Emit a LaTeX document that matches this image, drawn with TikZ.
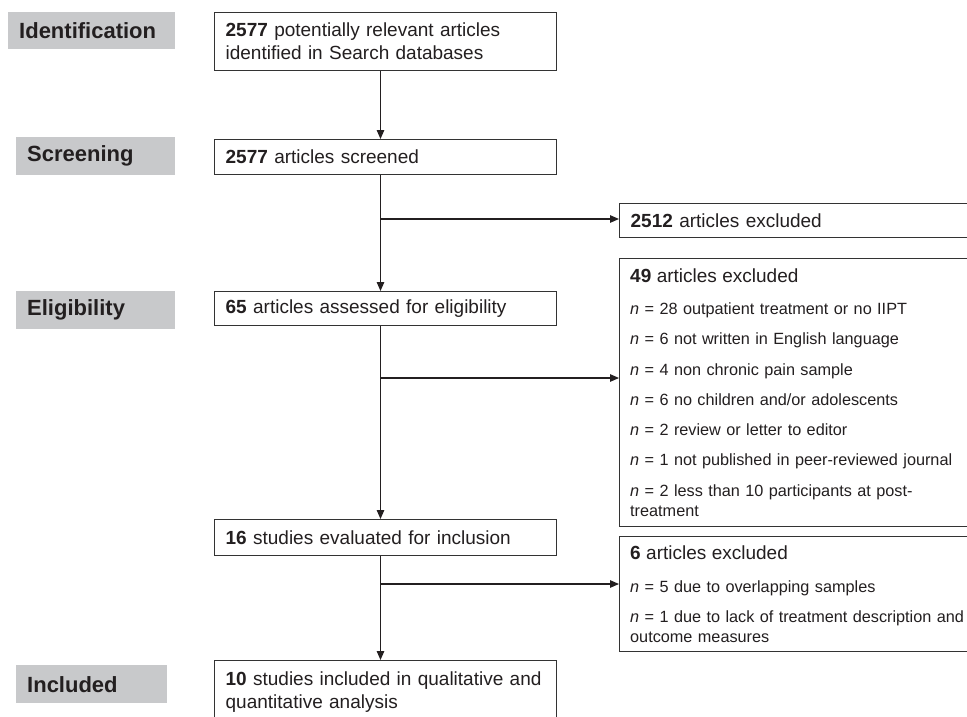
\documentclass[tikz,border=0pt]{standalone}
\usepackage{fontspec}
\setmainfont{Liberation Sans}
\usetikzlibrary{arrows.meta,calc}
\definecolor{ink}{HTML}{231F20}
\definecolor{stagegray}{HTML}{C8C9CB}
\definecolor{boxline}{HTML}{333333}
\newcommand\extitlefont{\fontsize{19}{20}\selectfont}
\begin{document}
\begin{tikzpicture}[x=1pt,y=-1pt,
  stage/.style={fill=stagegray, draw=none, anchor=north west, inner xsep=11pt, inner ysep=0pt, align=left, font=\fontsize{22}{25}\selectfont\bfseries, text=ink},
  mainbox/.style={draw=boxline, line width=1.3pt, anchor=north west, minimum width=342pt, text width=320pt, inner xsep=11pt, inner ysep=0pt, align=left, font=\fontsize{19}{23}\selectfont, text=ink},
  exbox/.style={draw=boxline, line width=1.3pt, anchor=north west, minimum width=360pt, inner sep=0pt},
  extext/.style={anchor=north west, inner sep=0pt, text width=420pt, align=left, font=\fontsize{16.25}{20}\selectfont, text=ink},
  flow/.style={draw=ink, line width=1.2pt, -{Triangle[length=9pt,width=7.5pt]}},
]
\useasboundingbox[fill=white] (0,0) rectangle (967,716);

% stage labels
\node[stage, minimum width=167pt, text width=145pt, minimum height=37pt] (sid) at (8,12) {Identification};
\node[stage, minimum width=159pt, text width=137pt, minimum height=38pt] (ssc) at (16,137) {Screening};
\node[stage, minimum width=159pt, text width=137pt, minimum height=38pt] (sel) at (16,291) {Eligibility};
\node[stage, minimum width=151pt, text width=129pt, minimum height=38pt] (sin) at (16,665) {Included};

% main flow boxes
\node[mainbox, minimum height=58pt] (b1) at (214,12) {\textbf{2577} potentially relevant articles\\identified in Search databases};
\node[mainbox, minimum height=35pt] (b2) at (214,139) {\textbf{2577} articles screened};
\node[mainbox, minimum height=34pt] (b3) at (214,291) {\textbf{65} articles assessed for eligibility};
\node[mainbox, minimum height=36pt] (b4) at (214,519) {\textbf{16} studies evaluated for inclusion};
\node[mainbox, minimum height=63pt] (b5) at (214,660) {\textbf{10} studies included in qualitative and\\quantitative analysis};

% exclusion boxes
\node[exbox, minimum height=34pt, text width=338pt, inner xsep=11pt, align=left, font=\fontsize{19}{23}\selectfont, text=ink] (e1) at (619,203) {\textbf{2512} articles excluded};
\node[exbox, minimum height=268pt] (e2) at (619,258) {};
\node[extext] (e2t) at (630,269) {{\extitlefont\textbf{49} articles excluded}\\[11.5pt]
\textit{n} = 28 outpatient treatment or no IIPT\\[10.3pt]
\textit{n} = 6 not written in English language\\[10.3pt]
\textit{n} = 4 non chronic pain sample\\[10.3pt]
\textit{n} = 6 no children and/or adolescents\\[10.3pt]
\textit{n} = 2 review or letter to editor\\[10.3pt]
\textit{n} = 1 not published in peer-reviewed journal\\[10.3pt]
\textit{n} = 2 less than 10 participants at post-\\
treatment};
\node[exbox, minimum height=115pt] (e3) at (619,536) {};
\node[extext] (e3t) at (630,546) {{\extitlefont\textbf{6} articles excluded}\\[13pt]
\textit{n} = 5 due to overlapping samples\\[10pt]
\textit{n} = 1 due to lack of treatment description and\\
outcome measures};

% connectors
\coordinate (trunk) at (380.5,0);
\coordinate (j1) at (380.5,219);
\coordinate (j2) at (380.5,378);
\coordinate (j3) at (380.5,584);
\draw[flow] (b1.south -| trunk) -- (b2.north -| trunk);
\draw[flow] (b2.south -| trunk) -- (b3.north -| trunk);
\draw[flow] (b3.south -| trunk) -- (b4.north -| trunk);
\draw[flow] (b4.south -| trunk) -- (b5.north -| trunk);
\draw[flow] (j1) -- (j1 -| e1.west);
\draw[flow] (j2) -- (j2 -| e2.west);
\draw[flow] (j3) -- (j3 -| e3.west);
\end{tikzpicture}
\end{document}
